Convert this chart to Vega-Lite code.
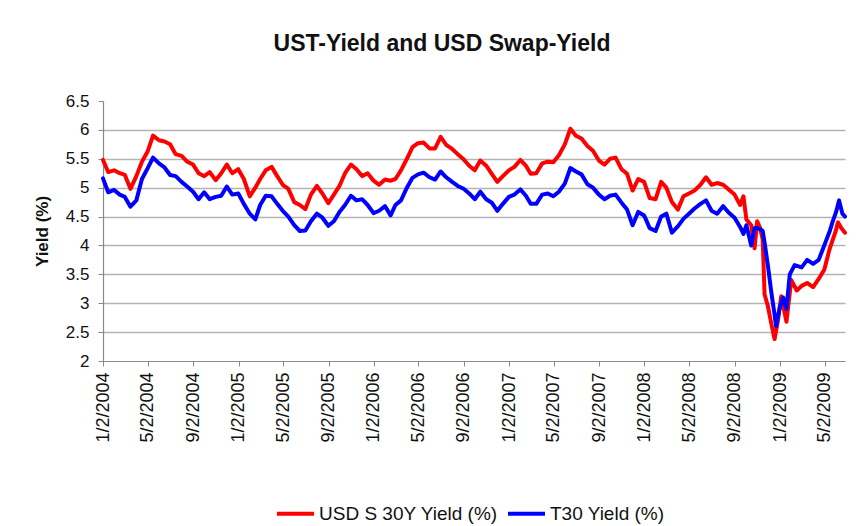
{
  "$schema": "https://vega.github.io/schema/vega-lite/v6.json",
  "width": 742,
  "height": 260,
  "autosize": {"type": "none"},
  "padding": {"left": 103, "top": 101, "right": 14, "bottom": 165},
  "background": "white",
  "title": {"text": "UST-Yield and USD Swap-Yield", "font": "Liberation Sans", "fontSize": 23, "fontWeight": "bold", "color": "#111", "anchor": "middle", "offset": 36, "dx": -32},
  "data": {"values": [
    {"date":"2004-01-02","series":"swap","yield":5.48},{"date":"2004-01-16","series":"swap","yield":5.27},{"date":"2004-02-01","series":"swap","yield":5.30},{"date":"2004-02-16","series":"swap","yield":5.25},
    {"date":"2004-03-01","series":"swap","yield":5.22},{"date":"2004-03-16","series":"swap","yield":4.98},{"date":"2004-04-01","series":"swap","yield":5.20},{"date":"2004-04-16","series":"swap","yield":5.45},
    {"date":"2004-05-01","series":"swap","yield":5.62},{"date":"2004-05-16","series":"swap","yield":5.90},{"date":"2004-06-01","series":"swap","yield":5.82},{"date":"2004-06-16","series":"swap","yield":5.80},
    {"date":"2004-07-01","series":"swap","yield":5.75},{"date":"2004-07-16","series":"swap","yield":5.58},{"date":"2004-08-01","series":"swap","yield":5.55},{"date":"2004-08-16","series":"swap","yield":5.45},
    {"date":"2004-09-01","series":"swap","yield":5.40},{"date":"2004-09-16","series":"swap","yield":5.25},{"date":"2004-10-01","series":"swap","yield":5.20},{"date":"2004-10-16","series":"swap","yield":5.27},
    {"date":"2004-11-01","series":"swap","yield":5.13},{"date":"2004-11-16","series":"swap","yield":5.25},{"date":"2004-12-01","series":"swap","yield":5.40},{"date":"2004-12-16","series":"swap","yield":5.25},
    {"date":"2005-01-01","series":"swap","yield":5.32},{"date":"2005-01-16","series":"swap","yield":5.15},{"date":"2005-02-01","series":"swap","yield":4.85},{"date":"2005-02-16","series":"swap","yield":5.00},
    {"date":"2005-03-01","series":"swap","yield":5.15},{"date":"2005-03-16","series":"swap","yield":5.30},{"date":"2005-04-01","series":"swap","yield":5.36},{"date":"2005-04-16","series":"swap","yield":5.20},
    {"date":"2005-05-01","series":"swap","yield":5.05},{"date":"2005-05-16","series":"swap","yield":4.98},{"date":"2005-06-01","series":"swap","yield":4.75},{"date":"2005-06-16","series":"swap","yield":4.70},
    {"date":"2005-07-01","series":"swap","yield":4.63},{"date":"2005-07-16","series":"swap","yield":4.88},{"date":"2005-08-01","series":"swap","yield":5.03},{"date":"2005-08-16","series":"swap","yield":4.90},
    {"date":"2005-09-01","series":"swap","yield":4.73},{"date":"2005-09-16","series":"swap","yield":4.88},{"date":"2005-10-01","series":"swap","yield":5.03},{"date":"2005-10-16","series":"swap","yield":5.25},
    {"date":"2005-11-01","series":"swap","yield":5.40},{"date":"2005-11-16","series":"swap","yield":5.32},{"date":"2005-12-01","series":"swap","yield":5.20},{"date":"2005-12-16","series":"swap","yield":5.25},
    {"date":"2006-01-01","series":"swap","yield":5.12},{"date":"2006-01-16","series":"swap","yield":5.05},{"date":"2006-02-01","series":"swap","yield":5.14},{"date":"2006-02-16","series":"swap","yield":5.12},
    {"date":"2006-03-01","series":"swap","yield":5.15},{"date":"2006-03-16","series":"swap","yield":5.30},{"date":"2006-04-01","series":"swap","yield":5.50},{"date":"2006-04-16","series":"swap","yield":5.70},
    {"date":"2006-05-01","series":"swap","yield":5.77},{"date":"2006-05-16","series":"swap","yield":5.78},{"date":"2006-06-01","series":"swap","yield":5.68},{"date":"2006-06-16","series":"swap","yield":5.68},
    {"date":"2006-07-01","series":"swap","yield":5.88},{"date":"2006-07-16","series":"swap","yield":5.74},{"date":"2006-08-01","series":"swap","yield":5.67},{"date":"2006-08-16","series":"swap","yield":5.58},
    {"date":"2006-09-01","series":"swap","yield":5.49},{"date":"2006-09-16","series":"swap","yield":5.38},{"date":"2006-10-01","series":"swap","yield":5.30},{"date":"2006-10-16","series":"swap","yield":5.47},
    {"date":"2006-11-01","series":"swap","yield":5.38},{"date":"2006-11-16","series":"swap","yield":5.24},{"date":"2006-12-01","series":"swap","yield":5.10},{"date":"2006-12-16","series":"swap","yield":5.20},
    {"date":"2007-01-01","series":"swap","yield":5.30},{"date":"2007-01-16","series":"swap","yield":5.36},{"date":"2007-02-01","series":"swap","yield":5.48},{"date":"2007-02-16","series":"swap","yield":5.38},
    {"date":"2007-03-01","series":"swap","yield":5.24},{"date":"2007-03-16","series":"swap","yield":5.25},{"date":"2007-04-01","series":"swap","yield":5.42},{"date":"2007-04-16","series":"swap","yield":5.45},
    {"date":"2007-05-01","series":"swap","yield":5.44},{"date":"2007-05-16","series":"swap","yield":5.56},{"date":"2007-06-01","series":"swap","yield":5.75},{"date":"2007-06-16","series":"swap","yield":6.02},
    {"date":"2007-07-01","series":"swap","yield":5.90},{"date":"2007-07-16","series":"swap","yield":5.85},{"date":"2007-08-01","series":"swap","yield":5.72},{"date":"2007-08-16","series":"swap","yield":5.64},
    {"date":"2007-09-01","series":"swap","yield":5.47},{"date":"2007-09-16","series":"swap","yield":5.40},{"date":"2007-10-01","series":"swap","yield":5.50},{"date":"2007-10-16","series":"swap","yield":5.52},
    {"date":"2007-11-01","series":"swap","yield":5.32},{"date":"2007-11-16","series":"swap","yield":5.24},{"date":"2007-12-01","series":"swap","yield":4.95},{"date":"2007-12-16","series":"swap","yield":5.15},
    {"date":"2008-01-01","series":"swap","yield":5.10},{"date":"2008-01-16","series":"swap","yield":4.82},{"date":"2008-02-01","series":"swap","yield":4.80},{"date":"2008-02-16","series":"swap","yield":5.10},
    {"date":"2008-03-01","series":"swap","yield":5.00},{"date":"2008-03-16","series":"swap","yield":4.75},{"date":"2008-04-01","series":"swap","yield":4.62},{"date":"2008-04-16","series":"swap","yield":4.85},
    {"date":"2008-05-01","series":"swap","yield":4.90},{"date":"2008-05-16","series":"swap","yield":4.95},{"date":"2008-06-01","series":"swap","yield":5.05},{"date":"2008-06-16","series":"swap","yield":5.18},
    {"date":"2008-07-01","series":"swap","yield":5.05},{"date":"2008-07-16","series":"swap","yield":5.08},{"date":"2008-08-01","series":"swap","yield":5.05},{"date":"2008-08-16","series":"swap","yield":4.97},
    {"date":"2008-09-01","series":"swap","yield":4.88},{"date":"2008-09-16","series":"swap","yield":4.70},{"date":"2008-09-25","series":"swap","yield":4.85},{"date":"2008-10-03","series":"swap","yield":4.45},
    {"date":"2008-10-16","series":"swap","yield":4.35},{"date":"2008-10-25","series":"swap","yield":3.95},{"date":"2008-11-01","series":"swap","yield":4.42},{"date":"2008-11-09","series":"swap","yield":4.30},
    {"date":"2008-11-16","series":"swap","yield":4.10},{"date":"2008-11-21","series":"swap","yield":3.15},{"date":"2008-11-30","series":"swap","yield":2.95},{"date":"2008-12-09","series":"swap","yield":2.65},
    {"date":"2008-12-18","series":"swap","yield":2.38},{"date":"2008-12-27","series":"swap","yield":2.70},{"date":"2009-01-05","series":"swap","yield":3.12},{"date":"2009-01-19","series":"swap","yield":2.68},
    {"date":"2009-02-01","series":"swap","yield":3.40},{"date":"2009-02-16","series":"swap","yield":3.22},{"date":"2009-03-01","series":"swap","yield":3.30},{"date":"2009-03-16","series":"swap","yield":3.35},
    {"date":"2009-04-01","series":"swap","yield":3.28},{"date":"2009-04-16","series":"swap","yield":3.42},{"date":"2009-05-01","series":"swap","yield":3.58},{"date":"2009-05-16","series":"swap","yield":3.95},
    {"date":"2009-06-01","series":"swap","yield":4.25},{"date":"2009-06-07","series":"swap","yield":4.40},{"date":"2009-06-16","series":"swap","yield":4.30},{"date":"2009-06-26","series":"swap","yield":4.22},

    {"date":"2004-01-02","series":"t30","yield":5.16},{"date":"2004-01-16","series":"t30","yield":4.92},{"date":"2004-02-01","series":"t30","yield":4.96},{"date":"2004-02-16","series":"t30","yield":4.88},
    {"date":"2004-03-01","series":"t30","yield":4.84},{"date":"2004-03-16","series":"t30","yield":4.67},{"date":"2004-04-01","series":"t30","yield":4.78},{"date":"2004-04-16","series":"t30","yield":5.15},
    {"date":"2004-05-01","series":"t30","yield":5.33},{"date":"2004-05-16","series":"t30","yield":5.52},{"date":"2004-06-01","series":"t30","yield":5.42},{"date":"2004-06-16","series":"t30","yield":5.35},
    {"date":"2004-07-01","series":"t30","yield":5.22},{"date":"2004-07-16","series":"t30","yield":5.20},{"date":"2004-08-01","series":"t30","yield":5.10},{"date":"2004-08-16","series":"t30","yield":5.02},
    {"date":"2004-09-01","series":"t30","yield":4.93},{"date":"2004-09-16","series":"t30","yield":4.80},{"date":"2004-10-01","series":"t30","yield":4.92},{"date":"2004-10-16","series":"t30","yield":4.80},
    {"date":"2004-11-01","series":"t30","yield":4.84},{"date":"2004-11-16","series":"t30","yield":4.86},{"date":"2004-12-01","series":"t30","yield":5.02},{"date":"2004-12-16","series":"t30","yield":4.88},
    {"date":"2005-01-01","series":"t30","yield":4.90},{"date":"2005-01-16","series":"t30","yield":4.72},{"date":"2005-02-01","series":"t30","yield":4.55},{"date":"2005-02-16","series":"t30","yield":4.45},
    {"date":"2005-03-01","series":"t30","yield":4.70},{"date":"2005-03-16","series":"t30","yield":4.86},{"date":"2005-04-01","series":"t30","yield":4.85},{"date":"2005-04-16","series":"t30","yield":4.72},
    {"date":"2005-05-01","series":"t30","yield":4.60},{"date":"2005-05-16","series":"t30","yield":4.50},{"date":"2005-06-01","series":"t30","yield":4.35},{"date":"2005-06-16","series":"t30","yield":4.25},
    {"date":"2005-07-01","series":"t30","yield":4.26},{"date":"2005-07-16","series":"t30","yield":4.42},{"date":"2005-08-01","series":"t30","yield":4.55},{"date":"2005-08-16","series":"t30","yield":4.48},
    {"date":"2005-09-01","series":"t30","yield":4.34},{"date":"2005-09-16","series":"t30","yield":4.42},{"date":"2005-10-01","series":"t30","yield":4.58},{"date":"2005-10-16","series":"t30","yield":4.70},
    {"date":"2005-11-01","series":"t30","yield":4.86},{"date":"2005-11-16","series":"t30","yield":4.78},{"date":"2005-12-01","series":"t30","yield":4.80},{"date":"2005-12-16","series":"t30","yield":4.70},
    {"date":"2006-01-01","series":"t30","yield":4.56},{"date":"2006-01-16","series":"t30","yield":4.60},{"date":"2006-02-01","series":"t30","yield":4.68},{"date":"2006-02-16","series":"t30","yield":4.52},
    {"date":"2006-03-01","series":"t30","yield":4.70},{"date":"2006-03-16","series":"t30","yield":4.78},{"date":"2006-04-01","series":"t30","yield":5.00},{"date":"2006-04-16","series":"t30","yield":5.17},
    {"date":"2006-05-01","series":"t30","yield":5.23},{"date":"2006-05-16","series":"t30","yield":5.26},{"date":"2006-06-01","series":"t30","yield":5.18},{"date":"2006-06-16","series":"t30","yield":5.14},
    {"date":"2006-07-01","series":"t30","yield":5.28},{"date":"2006-07-16","series":"t30","yield":5.18},{"date":"2006-08-01","series":"t30","yield":5.10},{"date":"2006-08-16","series":"t30","yield":5.03},
    {"date":"2006-09-01","series":"t30","yield":4.98},{"date":"2006-09-16","series":"t30","yield":4.90},{"date":"2006-10-01","series":"t30","yield":4.80},{"date":"2006-10-16","series":"t30","yield":4.93},
    {"date":"2006-11-01","series":"t30","yield":4.80},{"date":"2006-11-16","series":"t30","yield":4.74},{"date":"2006-12-01","series":"t30","yield":4.60},{"date":"2006-12-16","series":"t30","yield":4.72},
    {"date":"2007-01-01","series":"t30","yield":4.84},{"date":"2007-01-16","series":"t30","yield":4.88},{"date":"2007-02-01","series":"t30","yield":4.97},{"date":"2007-02-16","series":"t30","yield":4.86},
    {"date":"2007-03-01","series":"t30","yield":4.72},{"date":"2007-03-16","series":"t30","yield":4.72},{"date":"2007-04-01","series":"t30","yield":4.88},{"date":"2007-04-16","series":"t30","yield":4.90},
    {"date":"2007-05-01","series":"t30","yield":4.85},{"date":"2007-05-16","series":"t30","yield":4.93},{"date":"2007-06-01","series":"t30","yield":5.07},{"date":"2007-06-16","series":"t30","yield":5.34},
    {"date":"2007-07-01","series":"t30","yield":5.28},{"date":"2007-07-16","series":"t30","yield":5.23},{"date":"2007-08-01","series":"t30","yield":5.06},{"date":"2007-08-16","series":"t30","yield":5.00},
    {"date":"2007-09-01","series":"t30","yield":4.88},{"date":"2007-09-16","series":"t30","yield":4.80},{"date":"2007-10-01","series":"t30","yield":4.86},{"date":"2007-10-16","series":"t30","yield":4.88},
    {"date":"2007-11-01","series":"t30","yield":4.74},{"date":"2007-11-16","series":"t30","yield":4.62},{"date":"2007-12-01","series":"t30","yield":4.35},{"date":"2007-12-16","series":"t30","yield":4.58},
    {"date":"2008-01-01","series":"t30","yield":4.52},{"date":"2008-01-16","series":"t30","yield":4.30},{"date":"2008-02-01","series":"t30","yield":4.25},{"date":"2008-02-16","series":"t30","yield":4.50},
    {"date":"2008-03-01","series":"t30","yield":4.55},{"date":"2008-03-16","series":"t30","yield":4.22},{"date":"2008-04-01","series":"t30","yield":4.33},{"date":"2008-04-16","series":"t30","yield":4.46},
    {"date":"2008-05-01","series":"t30","yield":4.55},{"date":"2008-05-16","series":"t30","yield":4.64},{"date":"2008-06-01","series":"t30","yield":4.72},{"date":"2008-06-16","series":"t30","yield":4.78},
    {"date":"2008-07-01","series":"t30","yield":4.60},{"date":"2008-07-16","series":"t30","yield":4.55},{"date":"2008-08-01","series":"t30","yield":4.68},{"date":"2008-08-16","series":"t30","yield":4.57},
    {"date":"2008-09-01","series":"t30","yield":4.48},{"date":"2008-09-16","series":"t30","yield":4.32},{"date":"2008-09-25","series":"t30","yield":4.20},{"date":"2008-10-03","series":"t30","yield":4.35},
    {"date":"2008-10-16","series":"t30","yield":4.00},{"date":"2008-10-25","series":"t30","yield":4.30},{"date":"2008-11-01","series":"t30","yield":4.30},{"date":"2008-11-09","series":"t30","yield":4.28},
    {"date":"2008-11-16","series":"t30","yield":4.25},{"date":"2008-11-21","series":"t30","yield":4.05},{"date":"2008-11-30","series":"t30","yield":3.65},{"date":"2008-12-09","series":"t30","yield":3.20},
    {"date":"2008-12-18","series":"t30","yield":2.80},{"date":"2008-12-22","series":"t30","yield":2.60},{"date":"2009-01-01","series":"t30","yield":2.93},{"date":"2009-01-10","series":"t30","yield":3.10},
    {"date":"2009-01-19","series":"t30","yield":2.90},{"date":"2009-01-28","series":"t30","yield":3.50},{"date":"2009-02-10","series":"t30","yield":3.66},{"date":"2009-03-01","series":"t30","yield":3.62},
    {"date":"2009-03-16","series":"t30","yield":3.75},{"date":"2009-04-01","series":"t30","yield":3.68},{"date":"2009-04-16","series":"t30","yield":3.75},{"date":"2009-05-01","series":"t30","yield":4.00},
    {"date":"2009-05-16","series":"t30","yield":4.25},{"date":"2009-05-23","series":"t30","yield":4.40},{"date":"2009-06-02","series":"t30","yield":4.58},{"date":"2009-06-10","series":"t30","yield":4.78},
    {"date":"2009-06-19","series":"t30","yield":4.55},{"date":"2009-06-26","series":"t30","yield":4.50}
  ]},
  "mark": {"type": "line", "strokeWidth": 4, "strokeJoin": "round", "strokeCap": "round"},
  "encoding": {
    "x": {
      "field": "date", "type": "temporal",
      "scale": {"type": "utc", "domain": [{"year": 2004, "month": 1, "date": 2, "utc": true}, {"year": 2009, "month": 6, "date": 26, "utc": true}]},
      "axis": {
        "title": null, "grid": false,
        "values": [
          {"year": 2004, "month": 1, "date": 2, "utc": true}, {"year": 2004, "month": 5, "date": 2, "utc": true}, {"year": 2004, "month": 9, "date": 2, "utc": true},
          {"year": 2005, "month": 1, "date": 2, "utc": true}, {"year": 2005, "month": 5, "date": 2, "utc": true}, {"year": 2005, "month": 9, "date": 2, "utc": true},
          {"year": 2006, "month": 1, "date": 2, "utc": true}, {"year": 2006, "month": 5, "date": 2, "utc": true}, {"year": 2006, "month": 9, "date": 2, "utc": true},
          {"year": 2007, "month": 1, "date": 2, "utc": true}, {"year": 2007, "month": 5, "date": 2, "utc": true}, {"year": 2007, "month": 9, "date": 2, "utc": true},
          {"year": 2008, "month": 1, "date": 2, "utc": true}, {"year": 2008, "month": 5, "date": 2, "utc": true}, {"year": 2008, "month": 9, "date": 2, "utc": true},
          {"year": 2009, "month": 1, "date": 2, "utc": true}, {"year": 2009, "month": 5, "date": 2, "utc": true}
        ],
        "labelExpr": "utcFormat(datum.value, '%-m/%-d/%Y')",
        "labelAngle": -90, "labelFontSize": 18, "labelColor": "#111", "labelPadding": 6,
        "tickSize": 5, "tickColor": "#8a8a8a", "domainColor": "#8a8a8a", "domainWidth": 1.2,
        "labelOverlap": false, "labelFlush": false
      }
    },
    "y": {
      "field": "yield", "type": "quantitative",
      "scale": {"domain": [2, 6.5], "nice": false, "zero": false},
      "axis": {
        "title": "Yield (%)", "titleFontSize": 17, "titleFontWeight": "bold", "titleColor": "#111", "titlePadding": 14,
        "values": [2, 2.5, 3, 3.5, 4, 4.5, 5, 5.5, 6, 6.5], "format": "~g",
        "labelFontSize": 17, "labelColor": "#111", "labelPadding": 9,
        "tickSize": 5, "tickColor": "#8a8a8a", "domainColor": "#8a8a8a", "domainWidth": 1.2,
        "grid": true, "gridWidth": 1.3,
        "gridColor": {"condition": {"test": "datum.value == 6.5 || datum.value == 2", "value": "transparent"}, "value": "#b4b4b4"}
      }
    },
    "color": {
      "field": "series", "type": "nominal",
      "scale": {"domain": ["swap", "t30"], "range": ["#ff0000", "#0000ff"]},
      "legend": {
        "title": null, "orient": "none", "legendX": 172, "legendY": 392, "direction": "horizontal",
        "labelExpr": "datum.value == 'swap' ? 'USD S 30Y Yield (%)' : 'T30 Yield (%)'",
        "symbolType": "stroke", "symbolSize": 1369, "symbolStrokeWidth": 4,
        "labelFontSize": 19, "labelColor": "#111", "labelLimit": 400, "labelOffset": 3, "columnPadding": 2
      }
    }
  },
  "config": {"view": {"stroke": null}, "font": "Liberation Sans"}
}
